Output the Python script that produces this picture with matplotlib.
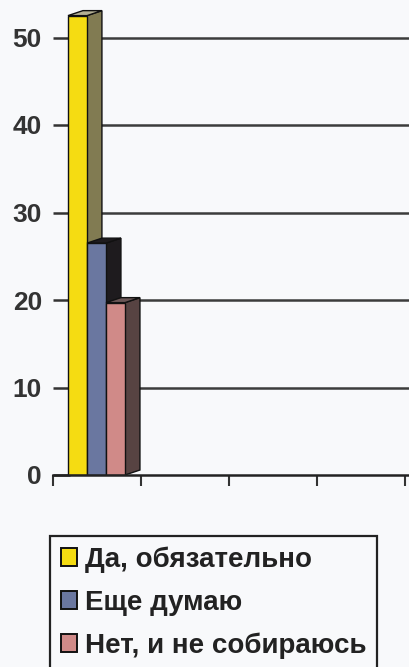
import matplotlib
matplotlib.use("Agg")
import matplotlib.pyplot as plt
from matplotlib.patches import Polygon, Patch

categories = ["Да, обязательно", "Еще думаю", "Нет, и не собираюсь"]
values = [52.5, 26.5, 19.7]
yticks = [0, 10, 20, 30, 40, 50]

front_colors = ["#f5dc12", "#6a77a0", "#d08a88"]
side_colors = ["#817b52", "#1e1b1e", "#574342"]
top_colors = ["#b4b094", "#1e1b1e", "#6a5656"]

BG = "#f8f9fb"
plt.rcParams['font.family'] = ['Liberation Sans', 'DejaVu Sans']

fig = plt.figure(figsize=(4.09, 6.67), dpi=100, facecolor=BG)
ax = fig.add_axes([53/409, 192/667, 356/409, 475/667], facecolor=BG)
ax.set_xlim(0, 356/88)
ax.set_ylim(0, 475/8.75)

bw = 0.216
x0 = 0.17
dx = 0.17
dy = 0.57

# gridlines on back wall
for t in yticks[1:]:
    ax.plot([x0, 356/88], [t, t], color="#3c3c3c", lw=1.8, zorder=1, solid_capstyle='butt')

for i, (v, fc, sc, tc) in enumerate(zip(values, front_colors, side_colors, top_colors)):
    xl = x0 + i*bw
    z = 3 + i*3
    side = Polygon([(xl+bw, 0), (xl+bw+dx, dy), (xl+bw+dx, v+dy), (xl+bw, v)],
                   closed=True, facecolor=sc, edgecolor="#111111", lw=1, zorder=z)
    top = Polygon([(xl, v), (xl+dx, v+dy), (xl+bw+dx, v+dy), (xl+bw, v)],
                  closed=True, facecolor=tc, edgecolor="#111111", lw=1, zorder=z)
    ax.add_patch(side)
    ax.add_patch(top)
    ax.bar(xl, v, width=bw, align='edge', color=fc, edgecolor="#111111", lw=1, zorder=z+1)

for s in ["top", "right", "left"]:
    ax.spines[s].set_visible(False)
ax.spines["bottom"].set_color("#222222")
ax.spines["bottom"].set_linewidth(1.8)
ax.spines["bottom"].set_zorder(20)

ax.set_yticks(yticks)
ax.set_yticklabels([str(t) for t in yticks], fontsize=19, fontweight='bold', color="#333333")
ax.tick_params(axis='y', direction='in', length=12, width=1.8, color="#333333", pad=8)
ax.set_xticks([0, 1, 2, 3, 4])
ax.set_xticklabels([])
ax.tick_params(axis='x', direction='out', length=8, width=1.5, color="#333333")

handles = [Patch(facecolor=c, edgecolor="#111111", lw=1.4) for c in front_colors]
leg = fig.legend(handles, categories, loc='upper left',
                 bbox_to_anchor=(50/409, 1 - 536/667),
                 prop={'family': 'Liberation Sans', 'weight': 'bold', 'size': 20},
                 frameon=True, fancybox=False, edgecolor="#222222", facecolor=BG,
                 framealpha=1, handlelength=0.58, handleheight=0.6,
                 handletextpad=0.3, labelspacing=0.6, borderpad=0.38,
                 borderaxespad=0, labelcolor="#222222")
leg.get_frame().set_linewidth(1.6)

fig.savefig("out.png", dpi=100, facecolor=BG)
